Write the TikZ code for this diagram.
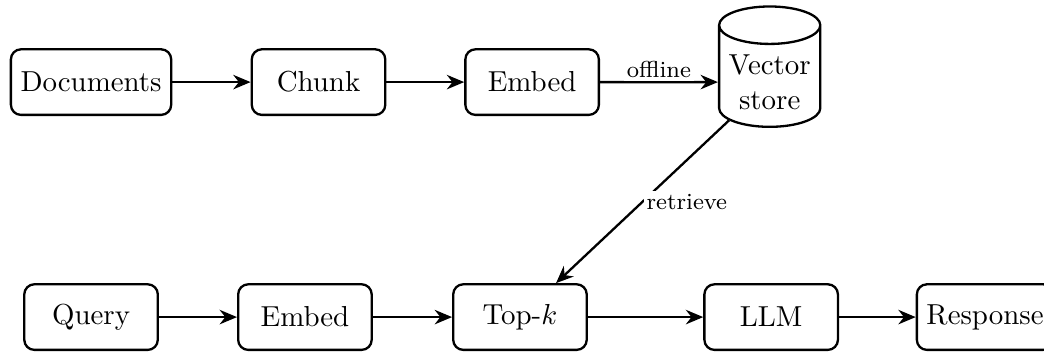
\documentclass[tikz,border=0pt]{standalone}
\usetikzlibrary{arrows.meta,shapes.geometric}
\begin{document}
\begin{tikzpicture}[x=1pt,y=1pt,
  box/.style={draw,thick,rounded corners=3.5pt,minimum width=46.2pt,minimum height=22.7pt},
  store/.style={draw,thick,cylinder,shape border rotate=90,aspect=0.37,minimum height=38pt,align=center},
  conn/.style={thick,-{Stealth[length=6pt,width=5pt]}},
  lbl/.style={font=\footnotesize,inner sep=1pt,fill=white}]
\useasboundingbox (0,0) rectangle (361.2,-121.5);
\node[box] (doc) at (31.5,-28.4) {Documents};
\node[box] (chunk) at (110.2,-28.4) {Chunk};
\node[box] (embed) at (184.1,-28.4) {Embed};
\node[store] (vs) at (266.3,-28.4) {Vector\\store};
\node[box] (query) at (31.5,-109.7) {Query};
\node[box] (embed2) at (105.5,-109.7) {Embed};
\node[box] (topk) at (179.9,-109.7) {Top-$k$};
\node[box] (llm) at (266.8,-109.7) {LLM};
\node[box] (resp) at (340.8,-109.7) {Response};
\draw[conn] (doc) -- (chunk);
\draw[conn] (chunk) -- (embed);
\draw[conn] (embed) -- node[lbl,above] {offline} (vs);
\draw[conn] (vs) -- node[lbl,right] {retrieve} (topk);
\draw[conn] (query) -- (embed2);
\draw[conn] (embed2) -- (topk);
\draw[conn] (topk) -- (llm);
\draw[conn] (llm) -- (resp);
\end{tikzpicture}
\end{document}
